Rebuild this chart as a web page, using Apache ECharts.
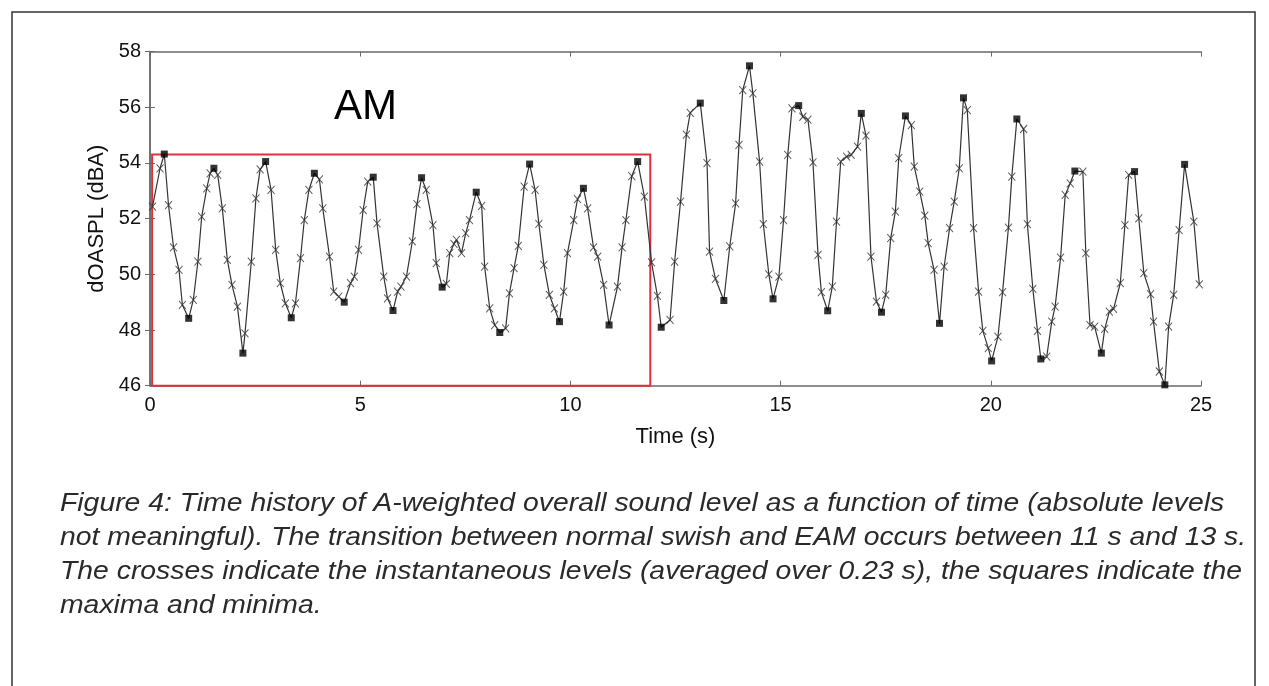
<!DOCTYPE html>
<html>
<head>
<meta charset="utf-8">
<script src="https://cdn.jsdelivr.net/npm/echarts@6/dist/echarts.min.js"></script>
<style>
html,body{margin:0;padding:0;background:#fff;}
#c{width:1269px;height:686px;}
</style>
</head>
<body>
<div id="c"></div>
<script>
// Instantaneous levels (crosses): time (s) and level (dBA)
const crossT = [0.06,0.24,0.44,0.56,0.69,0.77,1.03,1.14,1.23,1.35,1.43,1.61,1.72,1.84,1.95,2.08,2.26,2.41,2.52,2.62,2.88,2.99,3.10,3.22,3.46,3.58,3.67,3.78,4.03,4.11,4.27,4.37,4.49,4.77,4.86,4.96,5.07,5.18,5.40,5.56,5.65,5.89,5.97,6.10,6.24,6.35,6.57,6.73,6.81,7.05,7.13,7.23,7.29,7.41,7.51,7.60,7.89,7.96,8.08,8.20,8.46,8.55,8.66,8.76,8.90,9.16,9.25,9.37,9.50,9.62,9.84,9.93,10.08,10.17,10.41,10.55,10.65,10.79,11.12,11.23,11.32,11.46,11.76,11.93,12.07,12.37,12.48,12.62,12.76,12.85,13.25,13.31,13.45,13.79,13.93,14.01,14.10,14.34,14.50,14.59,14.72,14.96,15.07,15.17,15.27,15.53,15.65,15.77,15.89,15.97,16.23,16.33,16.43,16.57,16.68,16.83,17.03,17.15,17.28,17.50,17.62,17.73,17.81,18.11,18.18,18.31,18.43,18.51,18.65,18.89,19.02,19.13,19.25,19.44,19.59,19.71,19.81,19.94,20.17,20.28,20.42,20.50,20.78,20.87,21.00,21.11,21.33,21.45,21.53,21.66,21.77,21.89,22.19,22.26,22.36,22.47,22.71,22.82,22.92,23.08,23.19,23.28,23.52,23.64,23.80,23.87,24.01,24.23,24.35,24.48,24.83,24.96];
const crossV = [52.43,53.81,52.49,50.97,50.16,48.90,49.08,50.46,52.07,53.09,53.63,53.57,52.37,50.52,49.62,48.84,47.88,50.46,52.73,53.77,53.03,50.88,49.68,48.96,48.96,50.58,51.95,53.03,53.41,52.37,50.64,49.38,49.20,49.68,49.92,50.88,52.31,53.33,51.83,49.92,49.14,49.38,49.56,49.92,51.18,52.52,53.03,51.77,50.40,49.66,50.76,51.09,51.24,50.76,51.48,51.95,52.46,50.28,48.78,48.18,48.06,49.32,50.22,51.02,53.15,53.03,51.81,50.34,49.26,48.78,49.38,50.76,51.95,52.70,52.37,50.97,50.64,49.62,49.56,50.97,51.95,53.53,52.79,50.43,49.23,48.36,50.46,52.61,55.02,55.80,53.99,50.82,49.84,51.00,52.55,54.65,56.62,56.50,54.05,51.80,50.00,49.92,51.95,54.29,55.96,55.66,55.56,54.02,50.70,49.36,49.56,51.89,54.05,54.23,54.29,54.59,54.98,50.64,49.02,49.26,51.30,52.25,54.17,55.36,53.87,52.97,52.11,51.12,50.16,50.28,51.66,52.61,53.81,55.90,51.66,49.38,47.97,47.35,47.76,49.36,51.68,53.51,55.22,51.80,49.48,47.97,47.04,48.30,48.84,50.60,52.85,53.27,53.69,50.76,48.18,48.12,48.04,48.66,48.76,49.68,51.77,53.57,52.01,50.04,49.29,48.30,46.51,48.12,49.26,51.59,51.89,49.64];

// Maxima and minima (squares)
const extT = [0.34,0.92,1.52,2.21,2.75,3.36,3.91,4.62,5.31,5.78,6.46,6.95,7.76,8.32,9.03,9.74,10.31,10.92,11.60,12.16,13.09,13.65,14.26,14.82,15.43,16.12,16.92,17.40,17.97,18.78,19.35,20.02,20.62,21.19,22.00,22.63,23.42,24.14,24.61];
const extV = [54.32,48.42,53.81,47.17,54.05,48.44,53.63,49.00,53.49,48.70,53.47,49.54,52.95,47.91,53.96,48.30,53.09,48.18,54.05,48.10,56.15,49.06,57.49,49.12,56.06,48.69,55.78,48.64,55.69,48.24,56.34,46.89,55.58,46.96,53.71,47.17,53.69,46.03,53.95];

// AM region box (time range, level range)
const amBoxT = [0.05, 11.9];
const amBoxV = [46, 54.3];

const xTicks = [0, 25, 5];   // min, max, interval
const yTicks = [46, 58, 2];

const captionLines = [
  'Figure 4: Time history of A-weighted overall sound level as a function of time (absolute levels',
  'not meaningful). The transition between normal swish and EAM occurs between 11 s and 13 s.',
  'The crosses indicate the instantaneous levels (averaged over 0.23 s), the squares indicate the',
  'maxima and minima.'
];

const crossData = crossT.map((t, i) => [t, crossV[i]]);
const extData = extT.map((t, i) => [t, extV[i]]);
const lineData = crossData.concat(extData).sort((a, b) => a[0] - b[0]);

const FONT = '"Liberation Sans", Arial, sans-serif';
const axisCol = '#6a6a6a';

const chart = echarts.init(document.getElementById('c'), null, {renderer: 'canvas'});

const baseX = {
  type: 'value', min: xTicks[0], max: xTicks[1], interval: xTicks[2],
  axisLine: {show: true, lineStyle: {color: axisCol, width: 1.5}},
  axisTick: {show: true, inside: true, length: 5, lineStyle: {color: axisCol}},
  splitLine: {show: false}
};
const baseY = {
  type: 'value', min: yTicks[0], max: yTicks[1], interval: yTicks[2],
  axisLine: {show: true, lineStyle: {color: axisCol, width: 1.5}},
  axisTick: {show: true, inside: true, length: 5, lineStyle: {color: axisCol}},
  splitLine: {show: false}
};

const graphics = [
  {type: 'rect', shape: {x: 12, y: 12, width: 1243, height: 700},
   style: {fill: 'none', stroke: '#333', lineWidth: 1.5}, silent: true},
  {type: 'text', left: 334, top: 86,
   style: {text: 'AM', font: '42px ' + FONT, fill: '#000'}}
];
captionLines.forEach((s, i) => {
  graphics.push({type: 'text', x: 60, y: 492 + i * 34, scaleX: 1.134,
    style: {text: s, font: 'italic 25px ' + FONT, fill: '#2a2a2a'}});
});

chart.setOption({
  animation: false,
  backgroundColor: '#fff',
  grid: {left: 150, right: 68, top: 51.6, bottom: 300.3, containLabel: false},
  xAxis: [
    Object.assign({}, baseX, {
      position: 'bottom',
      axisLabel: {color: '#111', fontSize: 20, fontFamily: FONT, margin: 10},
      name: 'Time (s)', nameLocation: 'middle', nameGap: 40,
      nameTextStyle: {color: '#111', fontSize: 22, fontFamily: FONT}
    }),
    Object.assign({}, baseX, {position: 'top', axisLabel: {show: false}})
  ],
  yAxis: [
    Object.assign({}, baseY, {
      position: 'left',
      axisLabel: {color: '#111', fontSize: 20, fontFamily: FONT, margin: 9},
      name: 'dOASPL (dBA)', nameLocation: 'middle', nameGap: 42,
      nameTextStyle: {color: '#111', fontSize: 22, fontFamily: FONT}
    }),
    Object.assign({}, baseY, {position: 'right', axisLabel: {show: false}})
  ],
  graphic: graphics,
  series: [
    {
      type: 'line', data: lineData, showSymbol: false, symbol: 'none',
      lineStyle: {color: '#333', width: 1.2}, z: 2,
      markArea: {
        silent: true,
        itemStyle: {color: 'rgba(0,0,0,0)', borderColor: '#e0303c', borderWidth: 2},
        data: [[{coord: [amBoxT[0], amBoxV[1]]}, {coord: [amBoxT[1], amBoxV[0]]}]]
      }
    },
    {
      type: 'scatter', data: crossData,
      symbol: 'path://M0,0L10,10M10,0L0,10', symbolSize: [7, 8],
      itemStyle: {color: 'rgba(0,0,0,0)', borderColor: '#333', borderWidth: 1}, z: 3
    },
    {
      type: 'scatter', data: extData, symbol: 'rect', symbolSize: 7,
      itemStyle: {color: '#000'}, z: 4
    }
  ]
});
</script>
</body>
</html>
